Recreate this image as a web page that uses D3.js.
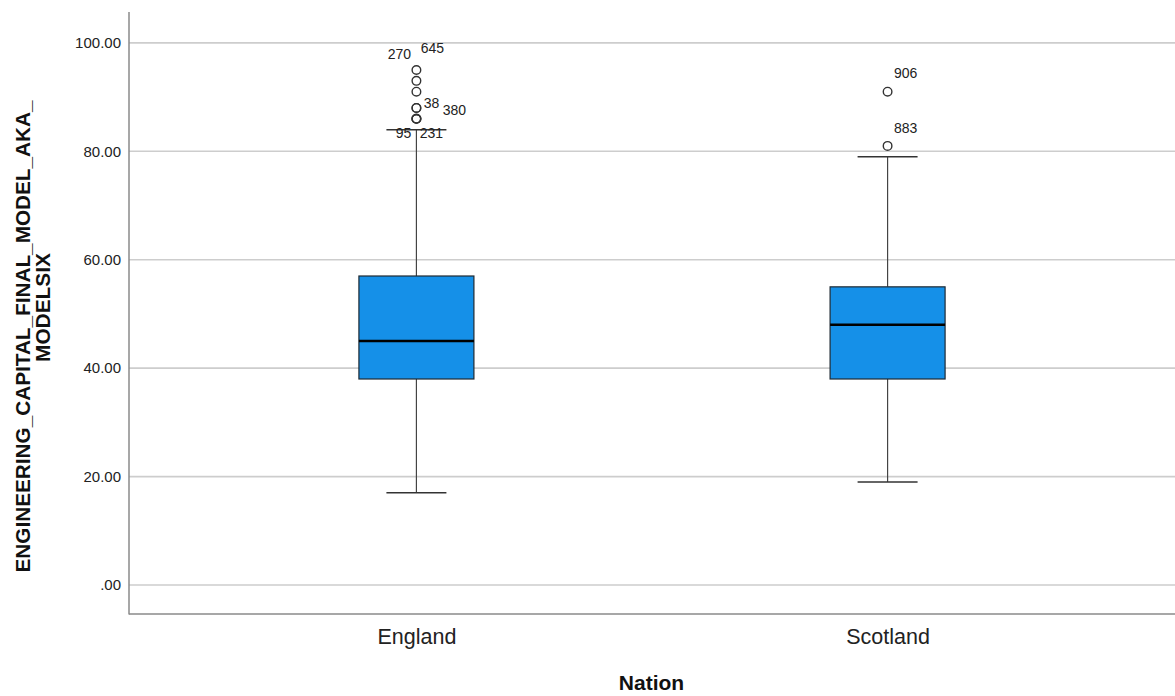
<!DOCTYPE html>
<html>
<head>
<meta charset="utf-8">
<script src="https://cdn.jsdelivr.net/npm/d3@7"></script>
<style>
  html, body { margin: 0; padding: 0; background: #ffffff; }
  svg { display: block; font-family: "Liberation Sans", Arial, sans-serif; }
</style>
</head>
<body>
<svg id="chart" width="1175" height="696"></svg>
<script>
// Nations on the x axis
const nations = ["England", "Scotland"];

// Five-number summaries per nation (whisker low, Q1, median, Q3, whisker high)
const whiskerLow  = [17, 19];
const quartile1   = [38, 38];
const medians     = [45, 48];
const quartile3   = [57, 55];
const whiskerHigh = [84, 79];

// Outlying cases per nation (repeated values are separate cases at the same score)
const outliersEngland  = [95, 93, 91, 88, 88, 86, 86, 86];
const outliersScotland = [91, 81];

// Case labels and the outlier value each one belongs to
const caseIdsEngland    = ["270", "645", "38", "380", "95", "231"];
const caseValuesEngland = [95, 95, 88, 86, 86, 86];
const caseIdsScotland    = ["906", "883"];
const caseValuesScotland = [91, 81];

// Y axis ticks
const yTicks = [0, 20, 40, 60, 80, 100];
const yTickLabels = [".00", "20.00", "40.00", "60.00", "80.00", "100.00"];

const yTitleLines = ["ENGINEERING_CAPITAL_FINAL_MODEL_AKA_", "MODELSIX"];
const xTitle = "Nation";

// ---- layout ----
const svg = d3.select("#chart");
const plotLeft = 129, plotRight = 1175, plotTop = 12, plotBottom = 614;

const y = d3.scaleLinear().domain([-5.35, 105.7]).range([plotBottom, plotTop]);
const x = d3.scalePoint().domain(nations).range([plotLeft, plotRight]).padding(0.61);

const boxWidth = 115, capWidth = 60;

// grid lines
svg.append("g").selectAll("line").data(yTicks).join("line")
  .attr("x1", plotLeft).attr("x2", plotRight)
  .attr("y1", d => y(d)).attr("y2", d => y(d))
  .attr("stroke", "#cdcdcd").attr("stroke-width", 1.6);

// y axis
const yAxis = d3.axisLeft(y).tickValues(yTicks)
  .tickFormat((d, i) => yTickLabels[i]).tickSize(0).tickPadding(8);
const gy = svg.append("g").attr("transform", `translate(${plotLeft},0)`).call(yAxis);
gy.select(".domain").remove();
gy.selectAll("text").attr("font-size", 15).attr("fill", "#222")
  .attr("font-family", "Liberation Sans, Arial, sans-serif");

// x axis
const xAxis = d3.axisBottom(x).tickSize(0).tickPadding(15);
const gx = svg.append("g").attr("transform", `translate(0,${plotBottom})`).call(xAxis);
gx.select(".domain").remove();
gx.selectAll("text").attr("font-size", 21.5).attr("fill", "#222")
  .attr("font-family", "Liberation Sans, Arial, sans-serif");

// axis lines
svg.append("line").attr("x1", plotLeft).attr("x2", plotLeft).attr("y1", plotTop).attr("y2", plotBottom + 0.5)
  .attr("stroke", "#8a8a8a").attr("stroke-width", 1.5);
svg.append("line").attr("x1", plotLeft).attr("x2", plotRight).attr("y1", plotBottom).attr("y2", plotBottom)
  .attr("stroke", "#8a8a8a").attr("stroke-width", 1.5);

// boxes
const stats = nations.map((n, i) => ({
  nation: n, lo: whiskerLow[i], q1: quartile1[i], med: medians[i],
  q3: quartile3[i], hi: whiskerHigh[i]
}));

const g = svg.append("g").selectAll("g").data(stats).join("g");

// whisker stems
g.append("line").attr("x1", d => x(d.nation)).attr("x2", d => x(d.nation))
  .attr("y1", d => y(d.q3)).attr("y2", d => y(d.hi))
  .attr("stroke", "#444").attr("stroke-width", 1.2);
g.append("line").attr("x1", d => x(d.nation)).attr("x2", d => x(d.nation))
  .attr("y1", d => y(d.q1)).attr("y2", d => y(d.lo))
  .attr("stroke", "#444").attr("stroke-width", 1.2);
// whisker caps
["lo", "hi"].forEach(k => {
  g.append("line")
    .attr("x1", d => x(d.nation) - capWidth / 2).attr("x2", d => x(d.nation) + capWidth / 2)
    .attr("y1", d => y(d[k])).attr("y2", d => y(d[k]))
    .attr("stroke", "#333").attr("stroke-width", 1.5);
});
// box
g.append("rect")
  .attr("x", d => x(d.nation) - boxWidth / 2).attr("width", boxWidth)
  .attr("y", d => y(d.q3)).attr("height", d => y(d.q1) - y(d.q3))
  .attr("fill", "#1590e8").attr("stroke", "#1e2a33").attr("stroke-width", 1.2);
// median
g.append("line")
  .attr("x1", d => x(d.nation) - boxWidth / 2).attr("x2", d => x(d.nation) + boxWidth / 2)
  .attr("y1", d => y(d.med)).attr("y2", d => y(d.med))
  .attr("stroke", "#000").attr("stroke-width", 2.6);

// outliers
const outliers = [
  ...outliersEngland.map(v => ({ nation: "England", v })),
  ...outliersScotland.map(v => ({ nation: "Scotland", v }))
];
svg.append("g").selectAll("circle").data(outliers).join("circle")
  .attr("cx", d => x(d.nation)).attr("cy", d => y(d.v)).attr("r", 4.3)
  .attr("fill", "none").attr("stroke", "#333").attr("stroke-width", 1.4);

// case labels, offset from the point they belong to
const labelOffset = {
  "270": [-17, -16], "645": [16, -22], "38": [15, -5], "380": [38, -9],
  "95": [-13, 14], "231": [15, 14], "906": [18, -19], "883": [18, -18]
};
const caseLabels = [
  ...caseIdsEngland.map((id, i) => ({ nation: "England", id, v: caseValuesEngland[i] })),
  ...caseIdsScotland.map((id, i) => ({ nation: "Scotland", id, v: caseValuesScotland[i] }))
];
svg.append("g").selectAll("text").data(caseLabels).join("text")
  .attr("x", d => x(d.nation) + labelOffset[d.id][0])
  .attr("y", d => y(d.v) + labelOffset[d.id][1])
  .attr("dy", "0.35em").attr("text-anchor", "middle")
  .attr("font-size", 14).attr("fill", "#222")
  .text(d => d.id);

// axis titles
svg.append("text").attr("x", plotLeft + (plotRight - plotLeft) / 2 - 0.5).attr("y", 690)
  .attr("text-anchor", "middle").attr("font-size", 21).attr("font-weight", "bold")
  .attr("fill", "#111").text(xTitle);

svg.append("text").attr("transform", "translate(30,336.5) rotate(-90)")
  .attr("text-anchor", "middle").attr("font-size", 21).attr("font-weight", "bold")
  .attr("fill", "#111").attr("textLength", 472).attr("lengthAdjust", "spacingAndGlyphs")
  .text(yTitleLines[0]);
svg.append("text").attr("transform", "translate(50,307.5) rotate(-90)")
  .attr("text-anchor", "middle").attr("font-size", 21).attr("font-weight", "bold")
  .attr("fill", "#111").attr("textLength", 109).attr("lengthAdjust", "spacingAndGlyphs")
  .text(yTitleLines[1]);
</script>
</body>
</html>
